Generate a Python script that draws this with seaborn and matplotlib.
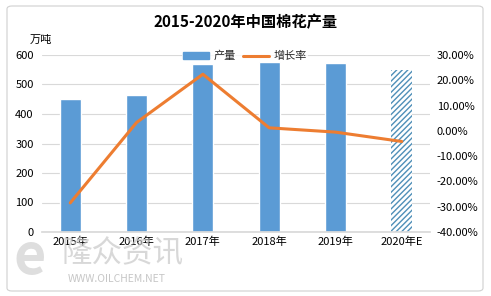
import matplotlib
matplotlib.use("Agg")
import matplotlib.pyplot as plt
import seaborn as sns
import numpy as np
import pandas as pd
from matplotlib.patches import FancyBboxPatch, Patch
from matplotlib.lines import Line2D

years = ["2015年", "2016年", "2017年", "2018年", "2019年", "2020年E"]
output = [450, 465, 569, 576, 573, 549]
growth = [-28.5, 3.3, 22.4, 1.2, -0.5, -4.2]

sns.set_theme(style="white")
plt.rcParams['font.family'] = ['Noto Sans CJK SC', 'DejaVu Sans']
plt.rcParams['hatch.linewidth'] = 1.0

blue = "#5B9BD5"
orange = "#ED7D31"
grid_c = "#D9D9D9"

W, H = 491, 296
def fy(y):
    return 1 - y / H

fig = plt.figure(figsize=(4.91, 2.96), dpi=100)

# watermark (behind)
fig.text(62/W, fy(254), "隆众资讯", ha="left", va="center", fontsize=22,
         color="#C8C8C8", alpha=0.7, zorder=0)
fig.text(68/W, fy(279), "WWW.OILCHEM.NET", ha="left", va="center", fontsize=7.5,
         color="#C0C0C0", alpha=0.9, zorder=0)
fig.text(14/W, fy(258), "e", ha="left", va="center", fontsize=40, fontweight="bold",
         color="#D0D0D0", alpha=0.7, zorder=0)

ax = fig.add_axes([42/W, fy(232), 388/W, 177/H])
ax.patch.set_alpha(0)

df = pd.DataFrame({"year": years, "output": output, "growth": growth})
sns.barplot(data=df, x="year", y="output", color=blue, width=0.32, ax=ax,
            saturation=1, zorder=2)
last = ax.patches[-1]
last.set_facecolor("white")
last.set_edgecolor("#4F8FB8")
last.set_hatch("//////")
last.set_linewidth(0)

ax.set_ylim(0, 600)
ax.set_yticks(range(0, 601, 100))
ax.yaxis.grid(True, color=grid_c, linewidth=0.8, zorder=0)
ax.set_axisbelow(True)
ax.set_xlabel("")
ax.set_ylabel("")
for s in ax.spines.values():
    s.set_visible(False)
ax.spines['bottom'].set_visible(True)
ax.spines['bottom'].set_color(grid_c)
ax.tick_params(axis='both', length=0, labelsize=8, colors="black", pad=3)
ax.tick_params(axis='y', pad=6)

ax2 = ax.twinx()
sns.lineplot(x=np.arange(len(years)), y=growth, ax=ax2, color=orange,
             linewidth=2.2, zorder=3)
ax2.set_ylim(-40, 30)
ax2.set_yticks(range(-40, 31, 10))
ax2.set_yticklabels([f"{v:.2f}%" for v in range(-40, 31, 10)])
for s in ax2.spines.values():
    s.set_visible(False)
ax2.tick_params(axis='y', length=0, labelsize=8, colors="black", pad=5)
ax2.set_xlim(ax.get_xlim())

fig.text(0.5, fy(22), "2015-2020年中国棉花产量", ha="center", va="center",
         fontsize=11, fontweight="bold", color="black")
fig.text(30/W, fy(40), "万吨", ha="left", va="center", fontsize=8, color="black")

handles = [Patch(facecolor=blue, edgecolor=blue),
           Line2D([0], [0], color=orange, linewidth=2.2)]
leg = fig.legend(handles, ["产量", "增长率"], loc="center", bbox_to_anchor=(245/W, fy(56)),
                 ncol=2, frameon=True, fontsize=8, handlelength=2.4, handleheight=0.6,
                 columnspacing=0.6, handletextpad=0.4, borderaxespad=0, borderpad=0.1)
leg.get_frame().set_facecolor("white")
leg.get_frame().set_edgecolor("none")

border = FancyBboxPatch((7/W, 5/H), 476/W, 285/H,
                        boxstyle="round,pad=0,rounding_size=0.01",
                        transform=fig.transFigure, fill=False,
                        edgecolor="#D0D0D0", linewidth=0.8)
fig.patches.append(border)

fig.savefig("out.png", dpi=100)
